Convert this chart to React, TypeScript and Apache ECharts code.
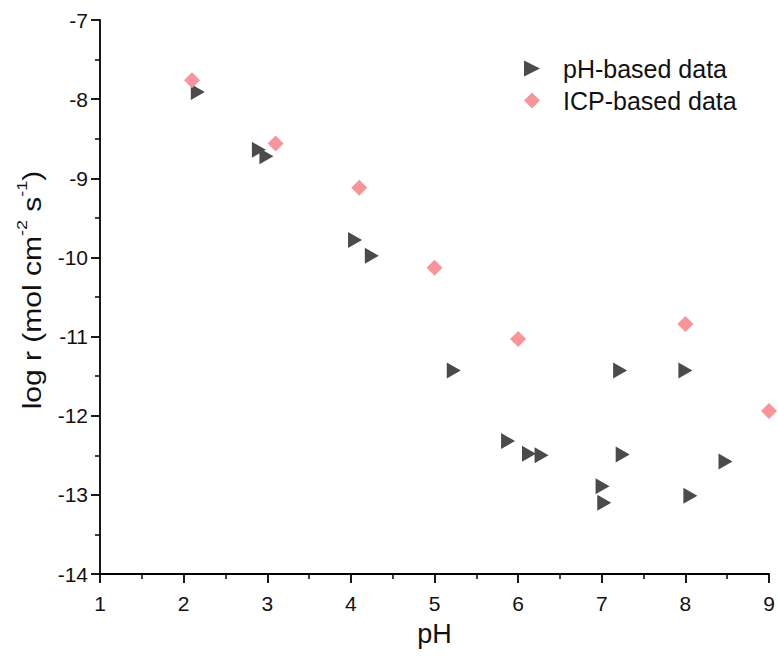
import React, { useEffect, useRef } from "react";
import * as echarts from "echarts";

const phX = [2.17, 2.9, 2.99, 4.05, 4.25, 5.23, 5.88, 6.13, 6.28, 7.01, 7.03, 7.22, 7.25, 8.0, 8.06, 8.48];
const phY = [-7.91, -8.64, -8.72, -9.78, -9.98, -11.43, -12.32, -12.48, -12.5, -12.89, -13.1, -11.43, -12.49, -11.43, -13.01, -12.58];

const icpX = [2.1, 3.1, 4.1, 5.0, 6.0, 8.0, 9.0];
const icpY = [-7.76, -8.56, -9.12, -10.13, -11.03, -10.84, -11.94];

const xTicks = [1, 9, 1];
const yTicks = [-14, -7, 1];

const FONT = "Liberation Sans, Arial, sans-serif";
const TRI = "path://M0,0 L10,5 L0,10 Z";

export default function App() {
  const ref = useRef<HTMLDivElement>(null);
  useEffect(() => {
    if (!ref.current) return;
    const chart = echarts.init(ref.current, undefined, { renderer: "svg" });
    const axisCommon = {
      axisLine: { show: true, onZero: false, lineStyle: { color: "#000", width: 1.8 } },
      axisTick: { show: true, inside: false, length: 9, lineStyle: { color: "#000", width: 1.8 } },
      minorTick: { show: true, splitNumber: 2, length: 5, lineStyle: { color: "#000", width: 1.5 } },
      splitLine: { show: false },
      minorSplitLine: { show: false },
    };
    chart.setOption({
      animation: false,
      backgroundColor: "#fff",
      textStyle: { fontFamily: FONT },
      grid: { left: 100, right: 9, top: 20, bottom: 86, containLabel: false },
      legend: {
        orient: "vertical",
        left: 519,
        top: 51,
        itemWidth: 16,
        itemHeight: 16,
        itemGap: 7,
        textStyle: { fontSize: 25, color: "#111", fontFamily: FONT, padding: [0, 0, 0, 18] },
        data: ["pH-based data", "ICP-based data"],
      },
      graphic: [
        {
          type: "text",
          x: 30,
          y: 290,
          rotation: Math.PI / 2,
          scaleX: 1.2,
          scaleY: 1,
          style: {
            text: "{m|log r (mol cm}{s|-2}{m| s}{s|-1}{m|)}",
            align: "center",
            verticalAlign: "middle",
            fill: "#111",
            fontFamily: FONT,
            fontSize: 25,
            rich: {
              m: { fontSize: 25, fill: "#111", fontFamily: FONT, lineHeight: 30, verticalAlign: "bottom" },
              s: { fontSize: 15, fill: "#111", fontFamily: FONT, lineHeight: 30, verticalAlign: "top", padding: [0, 0, 11, 0] },
            },
          },
        },
      ],
      xAxis: {
        type: "value",
        min: xTicks[0],
        max: xTicks[1],
        interval: xTicks[2],
        name: "pH",
        nameLocation: "middle",
        nameGap: 46,
        nameTextStyle: { fontSize: 27, color: "#111", fontFamily: FONT },
        axisLabel: { fontSize: 21, color: "#111", margin: 19, fontFamily: FONT },
        ...axisCommon,
      },
      yAxis: {
        type: "value",
        min: yTicks[0],
        max: yTicks[1],
        interval: yTicks[2],
        axisLabel: { fontSize: 21, color: "#111", margin: 12, fontFamily: FONT },
        ...axisCommon,
      },
      series: [
        {
          name: "pH-based data",
          type: "scatter",
          symbol: TRI,
          symbolSize: [14, 16],
          itemStyle: { color: "#4b4b4b", opacity: 1 },
          data: phX.map((x, i) => [x, phY[i]]),
          z: 2,
        },
        {
          name: "ICP-based data",
          type: "scatter",
          symbol: "diamond",
          symbolSize: 16,
          itemStyle: { color: "#f7959a", opacity: 1 },
          data: icpX.map((x, i) => [x, icpY[i]]),
          z: 3,
        },
      ],
    });
    return () => chart.dispose();
  }, []);
  return <div ref={ref} style={{ position: "fixed", left: 0, top: 0, width: 778, height: 660 }} />;
}
